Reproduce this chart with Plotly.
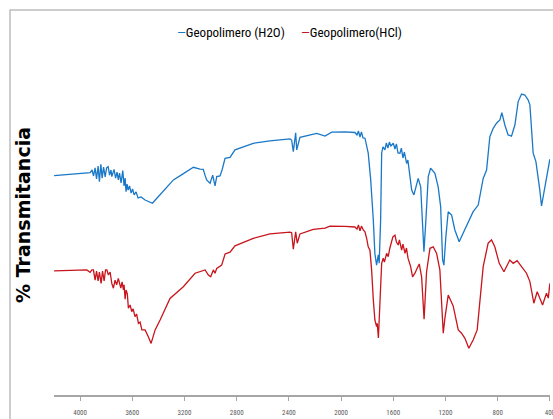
import plotly.graph_objects as go

# Wavenumber (cm-1) and transmittance (arbitrary %T)
wn_h2o = [4199, 4077, 3949, 3923, 3908, 3897, 3885, 3874, 3862, 3852, 3841, 3831, 3820, 3808, 3797,
          3785, 3774, 3763, 3757, 3747, 3740, 3728, 3717, 3707, 3698, 3686, 3673, 3663, 3655, 3648,
          3640, 3632, 3621, 3609, 3598, 3586, 3571, 3556, 3533, 3502, 3479, 3446, 3403, 3336, 3285,
          3211, 3132, 3081, 3056, 3043, 3030, 3004, 2984, 2966, 2953, 2928, 2912, 2889, 2851, 2813,
          2673, 2545, 2392, 2379, 2366, 2348, 2340, 2315, 2187, 2123, 2072, 1970, 1894, 1878, 1867,
          1855, 1844, 1832, 1817, 1792, 1773, 1753, 1741, 1728, 1715, 1708, 1697, 1689, 1679, 1664,
          1653, 1641, 1630, 1618, 1600, 1587, 1576, 1564, 1549, 1538, 1526, 1515, 1498, 1488, 1472,
          1459, 1442, 1427, 1409, 1390, 1375, 1365, 1350, 1332, 1314, 1281, 1256, 1237, 1222, 1212,
          1197, 1179, 1153, 1128, 1095, 1064, 1026, 988, 949, 911, 885, 860, 834, 809, 783,
          768, 745, 720, 694, 668, 643, 617, 592, 566, 553, 528, 507, 492, 477, 464,
          450, 426, 400]
t_h2o = [73.1, 73.5, 73.9, 74.1, 75.0, 73.0, 75.7, 72.0, 76.3, 71.1, 76.9, 72.3, 76.0, 72.7, 75.7,
         76.1, 73.3, 75.0, 72.8, 74.3, 75.2, 72.3, 74.3, 71.7, 74.0, 70.7, 74.8, 69.7, 72.3, 67.8,
         70.3, 68.3, 69.7, 67.3, 68.7, 66.7, 67.7, 65.7, 66.0, 65.0, 64.5, 63.9, 66.0, 69.4, 71.7,
         73.7, 75.9, 75.3, 75.2, 73.3, 71.7, 70.6, 73.3, 69.7, 72.8, 73.0, 75.0, 78.9, 79.2, 81.7,
         83.9, 84.7, 85.4, 85.0, 81.1, 87.4, 81.7, 85.9, 87.2, 86.3, 87.6, 87.7, 87.5, 86.7, 88.0,
         86.0, 87.7, 85.7, 85.6, 80.6, 71.7, 58.3, 47.2, 43.3, 46.7, 43.9, 58.3, 80.6, 82.7, 81.7,
         84.0, 82.3, 84.3, 83.0, 83.9, 82.0, 83.7, 80.7, 80.6, 82.3, 79.0, 81.0, 77.2, 78.3, 72.8,
         68.3, 66.7, 69.4, 72.2, 69.4, 58.3, 47.8, 58.3, 72.8, 75.6, 73.9, 69.4, 62.8, 45.0, 43.3,
         52.8, 61.1, 60.0, 55.0, 51.1, 53.9, 57.8, 61.1, 63.3, 72.2, 75.0, 86.1, 88.9, 90.6, 91.7,
         94.1, 90.0, 86.7, 86.3, 90.0, 97.8, 100.3, 100.0, 98.3, 96.7, 80.6, 77.8, 73.3, 68.3, 63.0,
         66.7, 72.8, 78.6]

wn_hcl = [4199, 4077, 3949, 3923, 3910, 3898, 3885, 3874, 3862, 3852, 3839, 3828, 3816, 3805, 3795,
          3783, 3770, 3757, 3745, 3732, 3720, 3707, 3697, 3688, 3678, 3668, 3663, 3655, 3648, 3638,
          3630, 3617, 3604, 3594, 3579, 3567, 3553, 3540, 3527, 3502, 3477, 3456, 3425, 3387, 3311,
          3209, 3119, 3042, 3017, 2999, 2979, 2966, 2953, 2915, 2889, 2851, 2813, 2673, 2545, 2392,
          2379, 2366, 2348, 2336, 2315, 2213, 2123, 2085, 1970, 1894, 1878, 1867, 1855, 1844, 1830,
          1817, 1804, 1792, 1779, 1766, 1753, 1741, 1728, 1723, 1714, 1702, 1689, 1677, 1668, 1651,
          1639, 1626, 1613, 1603, 1587, 1576, 1562, 1553, 1536, 1526, 1510, 1499, 1487, 1467, 1452,
          1434, 1416, 1401, 1383, 1364, 1345, 1319, 1294, 1268, 1243, 1222, 1217, 1204, 1179, 1141,
          1102, 1077, 1051, 1021, 988, 957, 936, 911, 873, 847, 822, 788, 752, 707, 681,
          651, 617, 579, 553, 523, 497, 477, 456, 426, 412, 400]
t_hcl = [41.4, 41.6, 41.7, 40.9, 41.7, 41.7, 38.3, 41.3, 38.0, 41.0, 37.2, 41.3, 38.0, 41.7, 41.7,
         40.0, 41.0, 37.2, 35.6, 38.3, 36.7, 38.9, 37.0, 35.6, 37.7, 35.0, 36.7, 31.9, 35.0, 33.7,
         28.9, 30.0, 27.8, 28.7, 26.1, 27.0, 23.9, 24.3, 21.7, 21.7, 19.4, 17.2, 21.7, 25.0, 32.2,
         36.1, 40.6, 41.7, 40.0, 39.4, 41.7, 40.6, 42.2, 43.3, 47.0, 47.6, 49.7, 52.2, 53.7, 54.3,
         54.1, 48.6, 54.4, 50.6, 53.7, 55.2, 55.6, 56.3, 56.2, 56.0, 55.3, 56.7, 54.7, 56.3, 55.0,
         54.4, 52.2, 49.4, 48.3, 41.7, 31.7, 25.0, 22.8, 23.9, 19.0, 30.6, 43.9, 45.6, 44.3, 47.2,
         46.1, 49.0, 51.7, 52.7, 53.3, 51.0, 50.0, 51.7, 48.3, 50.3, 47.2, 49.0, 45.6, 42.8, 39.4,
         40.6, 42.3, 43.7, 39.4, 25.3, 41.0, 48.9, 49.4, 47.2, 41.7, 21.7, 20.6, 25.7, 33.3, 29.7,
         21.7, 20.6, 18.9, 15.6, 18.3, 21.7, 30.6, 42.8, 50.6, 51.7, 49.4, 43.9, 41.1, 45.0, 43.9,
         44.8, 42.8, 40.6, 37.8, 30.6, 34.4, 32.3, 30.0, 33.9, 32.3, 37.2]

tick_vals = [4000, 3600, 3200, 2800, 2400, 2000, 1600, 1200, 800, 400]
tick_text = [str(v) for v in tick_vals]

names = ["Geopolimero (H2O)", "Geopolimero(HCl)"]
colors = ["#1A78C8", "#C8141C"]

fig = go.Figure()
fig.add_trace(go.Scatter(x=wn_h2o, y=t_h2o, mode="lines", name=names[0],
                         line=dict(color=colors[0], width=1.3), showlegend=False))
fig.add_trace(go.Scatter(x=wn_hcl, y=t_hcl, mode="lines", name=names[1],
                         line=dict(color=colors[1], width=1.3), showlegend=False))

narrow = "Liberation Sans Narrow, Arial Narrow, Roboto Condensed, sans-serif"

fig.update_layout(
    width=553, height=419,
    margin=dict(l=54, r=3, t=50, b=24),
    paper_bgcolor="white", plot_bgcolor="white",
    xaxis=dict(range=[4200, 399], showgrid=False, zeroline=False, automargin=False,
               showline=True, linecolor="#A6A6A6", linewidth=1.5,
               ticks="outside", ticklen=4, tickcolor="#A6A6A6", tickwidth=1,
               tickvals=tick_vals, ticktext=tick_text, ticklabelstandoff=6,
               ticklabeloverflow="allow",
               tickfont=dict(family=narrow, size=7, color="#595959")),
    yaxis=dict(range=[0, 115], showgrid=False, zeroline=False, showline=False,
               automargin=False, showticklabels=False, ticks=""),
    shapes=[dict(type="rect", xref="paper", yref="paper",
                 x0=-0.0887, x1=1.2, y0=-0.3, y1=1.116,
                 line=dict(color="#BDBDBD", width=1.5), layer="below")],
    annotations=[
        dict(text="<b>% Transmitancia</b>", xref="paper", yref="paper",
             x=-0.0625, y=0.522, textangle=-90, showarrow=False,
             xanchor="center", yanchor="middle",
             font=dict(family="DejaVu Sans", size=19, color="black")),
        dict(text=f"<span style='color:{colors[0]}'>—</span>{names[0]}",
             xref="paper", yref="paper", x=0.244, y=1.052, showarrow=False,
             xanchor="left", yanchor="middle",
             font=dict(family=narrow, size=13, color="black")),
        dict(text=f"<span style='color:{colors[1]}'>—</span>{names[1]}",
             xref="paper", yref="paper", x=0.494, y=1.052, showarrow=False,
             xanchor="left", yanchor="middle",
             font=dict(family=narrow, size=13, color="black")),
    ],
)

fig.write_html("out.html", config={"displayModeBar": False},
               post_script="document.body.style.margin='0';document.body.style.overflow='hidden';")
